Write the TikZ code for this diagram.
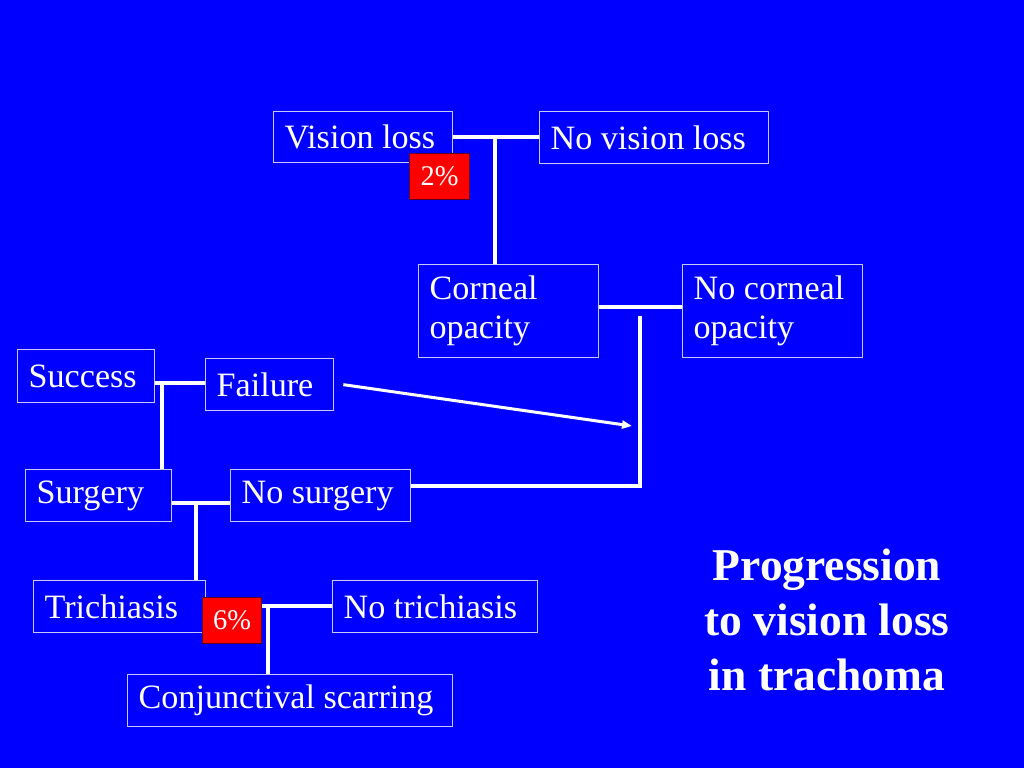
\documentclass[tikz,border=0pt]{standalone}
\usepackage{fontspec}
\setmainfont{Liberation Serif}
\usetikzlibrary{arrows.meta}
\newcommand\pxu{0.703125pt}
\definecolor{bgblue}{RGB}{0,0,255}
\definecolor{boxline}{RGB}{200,200,255}
\definecolor{pctred}{RGB}{255,0,0}
\definecolor{pctline}{RGB}{90,0,40}
\begin{document}
\begin{tikzpicture}[x=0.703125pt,y=-0.703125pt,
  box/.style={draw=boxline, line width=1.3*\pxu, anchor=north west, inner xsep=11*\pxu, inner ysep=0pt,
    align=flush left, text=white, font=\fontsize{24}{27.6}\selectfont},
  pct/.style={draw=pctline, fill=pctred, line width=1.3*\pxu, anchor=north west, inner sep=0pt,
    text=white, font=\fontsize{20}{24}\selectfont},
  conn/.style={draw=white, line width=4*\pxu},
  arrowline/.style={draw=white, line width=3*\pxu, -{Triangle[length=10*\pxu,width=8*\pxu]}},
  title/.style={text=white, align=center, font=\bfseries\fontsize{32}{38.7}\selectfont}]
\fill[bgblue] (0,0) rectangle (1024,768);
\useasboundingbox (0,0) rectangle (1024,768);

% boxes
\node[box, text width=157*\pxu, minimum height=51*\pxu] (vl) at (273,111) {Vision loss};
\node[box, text width=207*\pxu, minimum height=52*\pxu] (nvl) at (539,111) {No vision loss};
\node[box, text width=158*\pxu, minimum height=93*\pxu] (co) at (418,264) {Corneal\\opacity};
\node[box, text width=158*\pxu, minimum height=93*\pxu] (nco) at (682,264) {No corneal\\opacity};
\node[box, text width=115*\pxu, minimum height=53*\pxu] (su) at (17,349) {Success};
\node[box, text width=106*\pxu, minimum height=52*\pxu] (fa) at (205,358) {Failure};
\node[box, text width=124*\pxu, minimum height=52*\pxu] (sg) at (25,469) {Surgery};
\node[box, text width=158*\pxu, minimum height=52*\pxu] (ns) at (230,469) {No surgery};
\node[box, text width=150*\pxu, minimum height=52*\pxu] (tr) at (33,580) {Trichiasis};
\node[box, text width=183*\pxu, minimum height=52*\pxu] (ntr) at (332,580) {No trichiasis};
\node[box, text width=303*\pxu, minimum height=52*\pxu] (cs) at (127,674) {Conjunctival scarring};

% percentages
\node[pct, minimum width=60*\pxu, minimum height=46*\pxu] (p2) at (409,153) {2\%};
\node[pct, minimum width=59*\pxu, minimum height=46*\pxu] (p6) at (202,597) {6\%};

% connectors
\coordinate (j1) at (495,137);
\draw[conn] (vl.east |- j1) -- (nvl.west |- j1);
\draw[conn] (j1) -- (j1 |- co.north);

\coordinate (j2) at (598,307);
\draw[conn] (co.east |- j2) -- (nco.west |- j2);
\coordinate (ktop) at (640,316);
\coordinate (kbot) at (640,486);
\draw[conn] (ktop) -- (kbot) -- (kbot -| ns.east);

\coordinate (j3) at (162,383);
\draw[conn] (su.east |- j3) -- (fa.west |- j3);
\draw[conn] (j3) -- (j3 |- sg.north);

\coordinate (j4) at (196,503);
\draw[conn] (sg.east |- j4) -- (ns.west |- j4);
\draw[conn] (j4) -- (j4 |- tr.north);

\coordinate (j5) at (268,606);
\draw[conn] (p6.east |- j5) -- (ntr.west |- j5);
\draw[conn] (j5) -- (j5 |- cs.north);

\coordinate (aend) at (632,426);
\draw[arrowline] ([xshift=9*\pxu]fa.east) -- (aend);

% title
\node[title] (ttl) at (827,620) {Progression\\to vision loss\\in trachoma};
\end{tikzpicture}
\end{document}
